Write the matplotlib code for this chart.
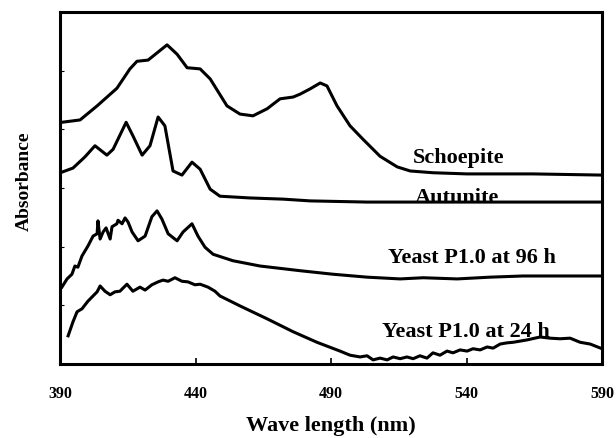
import matplotlib
matplotlib.use("Agg")
import matplotlib.pyplot as plt

plt.rcParams["font.family"] = ["Liberation Serif", "DejaVu Serif"]
plt.rcParams["font.weight"] = "bold"

# spectra (wavelength nm, absorbance in arbitrary offset units)
schoepite_wl = [390.7, 397.4, 403.7, 411.0, 415.8, 418.4, 422.5, 429.5, 433.2, 436.9, 441.7,
                445.4, 451.6, 456.4, 461.2, 466.4, 471.2, 476.0, 478.6, 482.3, 486.0, 488.5,
                492.2, 497.0, 501.8, 508.1, 514.4, 519.2, 527.6, 540.2, 564.5, 590.0]
schoepite_A = [4.12, 4.16, 4.40, 4.70, 5.03, 5.16, 5.18, 5.44, 5.28, 5.05, 5.03,
               4.86, 4.40, 4.26, 4.23, 4.35, 4.52, 4.55, 4.60, 4.69, 4.79, 4.74,
               4.40, 4.06, 3.83, 3.54, 3.36, 3.29, 3.26, 3.24, 3.24, 3.22]

autunite_wl = [390.7, 394.8, 399.2, 402.9, 407.3, 409.6, 414.4, 416.9, 420.3, 423.2, 426.2,
               428.7, 431.7, 435.0, 438.7, 441.7, 445.4, 449.0, 460.1, 472.3, 482.3, 503.3, 590.0]
autunite_A = [3.27, 3.34, 3.53, 3.72, 3.56, 3.66, 4.12, 3.89, 3.56, 3.72, 4.21,
              4.06, 3.29, 3.22, 3.44, 3.32, 2.98, 2.86, 2.83, 2.81, 2.78, 2.76, 2.76]

yeast96_wl = [390.7, 392.6, 394.4, 395.5, 396.6, 398.1, 400.3, 402.2, 403.7, 404.0, 404.8,
              405.9, 407.0, 408.5, 409.2, 411.0, 411.4, 412.9, 414.0, 415.1, 416.6, 418.8,
              421.4, 423.9, 425.8, 427.6, 429.9, 433.2, 435.4, 438.7, 440.9, 443.5, 446.5,
              453.8, 463.8, 478.6, 490.7, 503.3, 515.5, 524.0, 536.5, 548.7, 560.8, 573.4, 590.0]
yeast96_A = [1.31, 1.45, 1.53, 1.67, 1.65, 1.84, 2.01, 2.18, 2.22, 2.44, 2.13,
             2.25, 2.32, 2.13, 2.34, 2.39, 2.45, 2.39, 2.49, 2.42, 2.25, 2.10,
             2.18, 2.51, 2.61, 2.47, 2.22, 2.10, 2.25, 2.39, 2.18, 1.99, 1.87,
             1.76, 1.67, 1.59, 1.53, 1.48, 1.45, 1.47, 1.45, 1.48, 1.50, 1.50, 1.50]

yeast24_wl = [393.0, 394.8, 396.3, 398.1, 400.3, 402.2, 403.7, 404.8, 406.6, 408.5, 410.3,
              412.1, 414.7, 416.9, 419.5, 421.4, 423.9, 426.2, 428.0, 429.9, 432.4, 435.0,
              437.2, 439.8, 441.7, 444.6, 447.2, 449.0, 456.4, 466.4, 476.0, 484.8,
              493.3, 497.0, 500.7, 503.3, 505.5, 508.1, 510.7, 512.9, 515.5, 518.0, 520.3,
              522.8, 525.4, 527.6, 530.2, 532.8, 535.0, 537.6, 540.2, 542.4, 545.0, 547.6,
              549.8, 552.4, 554.9, 557.2, 562.3, 567.1, 570.8, 574.5, 578.2, 581.9, 585.6, 590.0]
yeast24_A = [0.48, 0.72, 0.89, 0.94, 1.07, 1.16, 1.23, 1.33, 1.24, 1.18, 1.23,
             1.24, 1.36, 1.24, 1.31, 1.26, 1.35, 1.40, 1.43, 1.41, 1.47, 1.41,
             1.40, 1.35, 1.36, 1.31, 1.24, 1.16, 0.99, 0.77, 0.55, 0.37,
             0.22, 0.15, 0.12, 0.14, 0.07, 0.10, 0.07, 0.12, 0.09, 0.12, 0.09,
             0.14, 0.10, 0.19, 0.15, 0.22, 0.19, 0.24, 0.22, 0.26, 0.24, 0.29,
             0.27, 0.34, 0.36, 0.37, 0.41, 0.46, 0.44, 0.43, 0.44, 0.37, 0.34, 0.26]

labels = ["Schoepite", "Autunite", "Yeast P1.0 at 96 h", "Yeast P1.0 at 24 h"]
label_x = [520.3, 521.0, 511.0, 508.8]
label_y = [3.44, 2.76, 1.74, 0.48]

xticks = [390, 440, 490, 540, 590]

fig = plt.figure(figsize=(6.16, 4.39), dpi=100)
ax = fig.add_axes([0.0974, 0.1686, 0.880, 0.8018])

for wl, a in [(schoepite_wl, schoepite_A), (autunite_wl, autunite_A),
              (yeast96_wl, yeast96_A), (yeast24_wl, yeast24_A)]:
    ax.plot(wl, a, color="black", lw=2.2, solid_joinstyle="round")

for txt, x, y in zip(labels, label_x, label_y):
    ax.text(x, y, txt, fontsize=16, fontweight="bold", ha="left", va="baseline")

ax.set_xlim(390, 590)
ax.set_ylim(0, 6)
ax.set_xticks(xticks)
ax.set_yticks([1, 2, 3, 4, 5])
ax.set_yticklabels([])
ax.tick_params(axis="x", direction="in", length=4, width=1.2, pad=15, labelsize=11.5)
ax.tick_params(axis="y", direction="in", length=3, width=0.8)
for s in ax.spines.values():
    s.set_linewidth(2.2)

ax.set_xlabel("Wave length (nm)", fontsize=16, fontweight="bold", labelpad=10)
ax.set_ylabel("Absorbance", fontsize=14, fontweight="bold")
ax.yaxis.set_label_coords(-0.05, 0.523)

fig.savefig("out.png", dpi=100)
